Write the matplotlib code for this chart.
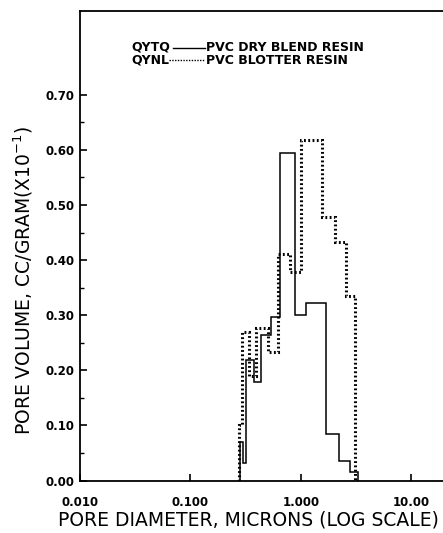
import matplotlib
matplotlib.use("Agg")
import matplotlib.pyplot as plt

# Pore size distribution (log x scale)
# QYTQ - PVC dry blend resin (solid)
dry_edges = [0.281, 0.301, 0.321, 0.377, 0.433, 0.534, 0.649, 0.888, 1.118, 1.676, 2.23, 2.75, 3.27]
dry_volume = [0.070, 0.032, 0.219, 0.179, 0.264, 0.297, 0.594, 0.300, 0.323, 0.084, 0.036, 0.016]

# QYNL - PVC blotter resin (dotted)
blot_edges = [0.273, 0.291, 0.340, 0.390, 0.498, 0.618, 0.794, 1.0, 1.54, 2.04, 2.57, 3.10]
blot_volume = [0.100, 0.270, 0.190, 0.277, 0.233, 0.411, 0.379, 0.618, 0.478, 0.433, 0.334]

x_ticks = [0.01, 0.1, 1.0, 10.0]
x_labels = ["0.010", "0.100", "1.000", "10.00"]
y_ticks = [0.0, 0.1, 0.2, 0.3, 0.4, 0.5, 0.6, 0.7]
y_labels = ["0.00", "0.10", "0.20", "0.30", "0.40", "0.50", "0.60", "0.70"]

fig = plt.figure(figsize=(4.43, 5.33), dpi=100)
ax = fig.add_axes([80 / 443, 52.5 / 533, 363 / 443, 469.5 / 533])

ax.stairs(dry_volume, dry_edges, color="black", linewidth=1.1)
ax.stairs(blot_volume, blot_edges, color="black", linewidth=2.2, linestyle=(0, (0.6, 0.8)))

ax.set_xscale("log")
ax.set_xlim(0.01, 19.3)
ax.set_ylim(0, 0.852)

ax.set_xticks(x_ticks)
ax.set_xticklabels(x_labels)
ax.xaxis.set_minor_locator(matplotlib.ticker.NullLocator())
ax.set_yticks(y_ticks)
ax.set_yticklabels(y_labels)
ax.set_yticks([0.05, 0.15, 0.25, 0.35, 0.45, 0.55, 0.65], minor=True)

ax.tick_params(axis="both", which="major", direction="in", length=5, width=1.2,
               labelsize=8.5, pad=4)
ax.tick_params(axis="x", which="major", pad=11)
ax.tick_params(axis="y", which="minor", direction="in", length=3, width=1)
for lab in ax.get_xticklabels() + ax.get_yticklabels():
    lab.set_fontweight("bold")

ax.spines["right"].set_visible(False)
for s in ["left", "bottom", "top"]:
    ax.spines[s].set_linewidth(1.3)

# legend drawn as text with short line samples
t = ax.transAxes
def fx(px):
    return (px - 80) / 363
def fy(py):
    return (480.5 - py) / 469.5

ax.set_xlabel("PORE DIAMETER, MICRONS (LOG SCALE)", fontsize=13.5)
ax.set_ylabel("PORE VOLUME, CC/GRAM(X10$^{-1}$)", fontsize=13.5)
ax.xaxis.set_label_coords(fx(248), fy(520), transform=t)
ax.yaxis.set_label_coords(fx(23), fy(280), transform=t)
ax.xaxis.label.set_va("center")
ax.yaxis.label.set_va("center")

ax.text(fx(131), fy(47.5), "QYTQ", transform=t, fontsize=9, fontweight="bold", va="center")
ax.plot([fx(173), fx(205)], [fy(47.5), fy(47.5)], transform=t, color="black", linewidth=1)
ax.text(fx(206), fy(47.5), "PVC DRY BLEND RESIN", transform=t, fontsize=9, fontweight="bold", va="center")
ax.text(fx(131), fy(60), "QYNL", transform=t, fontsize=9, fontweight="bold", va="center")
ax.plot([fx(169), fx(205)], [fy(60), fy(60)], transform=t, color="black", linewidth=1,
        linestyle=(0, (1, 1)))
ax.text(fx(206), fy(60), "PVC BLOTTER RESIN", transform=t, fontsize=9, fontweight="bold", va="center")

fig.savefig("out.png", dpi=100)
